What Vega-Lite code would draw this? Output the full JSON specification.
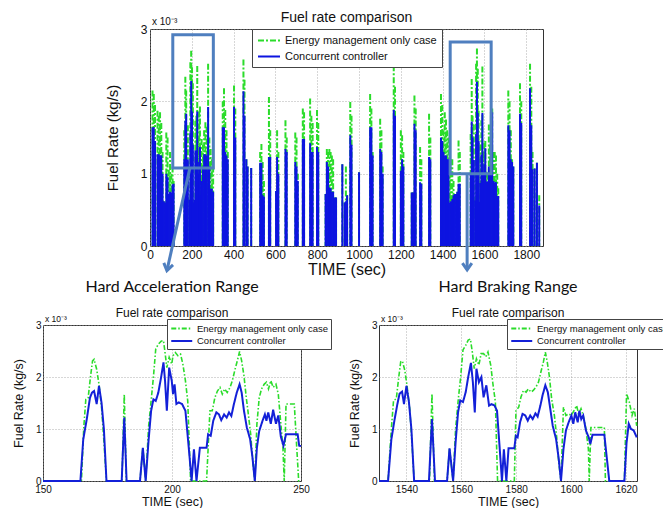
{
"$schema": "https://vega.github.io/schema/vega-lite/v6.json",
"background": "white",
"padding": {"left": 11, "top": 10, "right": 0, "bottom": 0},
"config": {
 "font": "Liberation Sans",
 "view": {"stroke": "#333", "strokeWidth": 1},
 "axis": {"domain": false, "ticks": false, "grid": true, "gridColor": "#999", "gridDash": [1, 2], "gridWidth": 0.8, "labelFont": "Liberation Sans", "titleFont": "Liberation Sans", "labelColor": "#111", "titleColor": "#111", "titleFontWeight": "normal", "labelFlush": false},
 "legend": {"labelFont": "Liberation Sans", "labelColor": "#111"},
 "title": {"font": "Liberation Sans", "fontWeight": "normal", "color": "#111", "frame": "group"}
},
"datasets": {
 "top": [
{"t":12,"c":1.64,"e":2.15},{"t":18,"c":1.64,"e":2.1},{"t":24,"c":1.45,"e":1.95},{"t":36,"c":1.27,"e":1.87},{"t":42,"c":1.27,"e":1.8},{"t":48,"c":1.25,"e":1.85},{"t":54,"c":1.25,"e":1.7},{"t":60,"c":1.0,"e":1.3},{"t":66,"c":0.62,"e":0.62},{"t":72,"c":0.6,"e":0.6},{"t":78,"c":1.0,"e":1.57},{"t":84,"c":0.95,"e":1.5},{"t":90,"c":0.72,"e":1.05},{"t":96,"c":0.75,"e":1.3},{"t":102,"c":0.74,"e":1.0},{"t":108,"c":0.85,"e":1.1},{"t":113,"c":0.86,"e":0.9},
{"t":164,"c":1.2,"e":1.6},{"t":169,"c":1.73,"e":2.34},{"t":173,"c":1.83,"e":2.15},{"t":181,"c":1.2,"e":1.67},{"t":189,"c":0.64,"e":0.64},{"t":193,"c":1.57,"e":2.54},{"t":197,"c":2.28,"e":2.7},{"t":201,"c":1.86,"e":2.47},{"t":205,"c":1.4,"e":2.25},{"t":209,"c":0.6,"e":0.6},{"t":213,"c":0.64,"e":0.64},{"t":217,"c":1.32,"e":1.73},{"t":222,"c":1.32,"e":1.8},{"t":226,"c":1.86,"e":2.49},{"t":230,"c":1.0,"e":1.5},{"t":235,"c":1.16,"e":1.86},{"t":239,"c":1.37,"e":1.93},{"t":243,"c":0.7,"e":1.09},{"t":247,"c":0.9,"e":1.48},{"t":253,"c":1.1,"e":1.4},{"t":259,"c":1.27,"e":1.6},{"t":265,"c":1.27,"e":1.71},{"t":271,"c":1.25,"e":1.65},{"t":278,"c":1.92,"e":2.52},{"t":284,"c":1.1,"e":1.5},{"t":290,"c":0.79,"e":1.34},{"t":296,"c":0.79,"e":1.2},{"t":302,"c":0.75,"e":1.1},
{"t":348,"c":1.64,"e":2.0},{"t":354,"c":1.64,"e":2.18},{"t":360,"c":1.3,"e":1.88},{"t":366,"c":1.25,"e":1.6},{"t":372,"c":1.2,"e":1.3},
{"t":402,"c":1.92,"e":2.22},{"t":408,"c":1.5,"e":1.9},
{"t":447,"c":2.14,"e":2.58},{"t":452,"c":1.8,"e":2.3},{"t":461,"c":1.2,"e":1.2},{"t":467,"c":1.1,"e":1.1},{"t":484,"c":1.08,"e":1.08},
{"t":527,"c":1.15,"e":1.3},{"t":533,"c":1.15,"e":1.41},{"t":539,"c":0.7,"e":1.16},{"t":545,"c":0.68,"e":0.9},
{"t":569,"c":1.23,"e":2.06},{"t":575,"c":1.23,"e":1.6},
{"t":603,"c":0.76,"e":0.76},{"t":608,"c":1.23,"e":1.6},{"t":614,"c":1.0,"e":1.3},
{"t":648,"c":1.34,"e":1.74},{"t":654,"c":1.3,"e":1.5},
{"t":695,"c":1.16,"e":1.57},{"t":701,"c":1.1,"e":1.5},{"t":707,"c":0.9,"e":1.0},
{"t":731,"c":1.48,"e":1.9},{"t":737,"c":1.48,"e":1.85},
{"t":766,"c":1.42,"e":2.04},{"t":772,"c":1.3,"e":1.8},{"t":778,"c":1.3,"e":1.7},
{"t":799,"c":1.37,"e":1.88},{"t":805,"c":1.3,"e":1.7},
{"t":840,"c":0.72,"e":0.72},{"t":846,"c":1.16,"e":1.34},{"t":852,"c":1.1,"e":1.3},{"t":858,"c":0.81,"e":1.34},{"t":864,"c":0.8,"e":1.3},{"t":870,"c":0.75,"e":1.25},{"t":876,"c":0.75,"e":1.2},{"t":884,"c":0.67,"e":0.67},{"t":890,"c":0.67,"e":0.67},
{"t":920,"c":1.13,"e":1.13},{"t":931,"c":0.6,"e":0.6},{"t":937,"c":0.62,"e":1.1},{"t":943,"c":0.7,"e":0.7},
{"t":958,"c":1.53,"e":1.99},{"t":964,"c":1.4,"e":1.8},
{"t":1000,"c":1.02,"e":1.02},
{"t":1053,"c":1.64,"e":2.1},{"t":1059,"c":1.64,"e":1.9},{"t":1065,"c":1.25,"e":1.3},
{"t":1101,"c":1.34,"e":1.76},{"t":1107,"c":1.3,"e":1.6},{"t":1113,"c":1.0,"e":1.1},
{"t":1166,"c":1.88,"e":2.5},{"t":1172,"c":1.8,"e":2.2},
{"t":1200,"c":1.04,"e":1.6},{"t":1206,"c":1.2,"e":1.53},{"t":1212,"c":1.1,"e":1.3},
{"t":1252,"c":0.74,"e":0.74},{"t":1258,"c":0.74,"e":0.74},{"t":1265,"c":1.69,"e":2.08},{"t":1271,"c":1.6,"e":1.9},
{"t":1292,"c":0.88,"e":1.37},{"t":1298,"c":0.86,"e":1.2},
{"t":1335,"c":1.23,"e":1.83},{"t":1341,"c":1.2,"e":1.5},
{"t":1392,"c":1.5,"e":2.1},{"t":1398,"c":1.45,"e":1.95},{"t":1404,"c":1.3,"e":1.6},{"t":1410,"c":1.25,"e":1.85},{"t":1416,"c":1.25,"e":1.75},{"t":1422,"c":1.2,"e":1.6},{"t":1428,"c":1.2,"e":1.5},{"t":1434,"c":0.6,"e":1.57},{"t":1440,"c":0.62,"e":1.2},{"t":1446,"c":0.65,"e":1.2},{"t":1452,"c":0.7,"e":0.9},{"t":1458,"c":0.72,"e":0.72},{"t":1464,"c":0.72,"e":0.72},{"t":1470,"c":0.75,"e":0.75},{"t":1476,"c":0.86,"e":1.46},{"t":1482,"c":0.86,"e":1.3},
{"t":1534,"c":1.0,"e":1.55},{"t":1539,"c":1.72,"e":2.31},{"t":1543,"c":1.5,"e":1.8},{"t":1549,"c":1.19,"e":1.68},{"t":1556,"c":0.63,"e":0.63},{"t":1560,"c":1.55,"e":2.52},{"t":1564,"c":2.27,"e":2.73},{"t":1568,"c":1.84,"e":2.45},{"t":1572,"c":1.45,"e":1.87},{"t":1576,"c":0.61,"e":0.61},{"t":1580,"c":0.87,"e":1.4},{"t":1585,"c":1.26,"e":1.74},{"t":1590,"c":1.84,"e":2.48},{"t":1594,"c":1.0,"e":1.3},{"t":1599,"c":1.13,"e":1.42},{"t":1604,"c":1.35,"e":1.45},{"t":1609,"c":0.89,"e":1.03},{"t":1614,"c":0.89,"e":1.0},{"t":1621,"c":1.1,"e":1.68},{"t":1626,"c":1.0,"e":1.4},{"t":1631,"c":1.85,"e":1.97},{"t":1637,"c":1.85,"e":1.9},{"t":1643,"c":0.9,"e":1.3},{"t":1649,"c":0.88,"e":1.3},{"t":1655,"c":0.88,"e":1.25},{"t":1661,"c":0.69,"e":1.0},{"t":1666,"c":0.69,"e":0.8},
{"t":1714,"c":1.67,"e":2.15},{"t":1720,"c":1.6,"e":2.0},{"t":1726,"c":1.2,"e":1.6},{"t":1732,"c":1.16,"e":1.2},{"t":1738,"c":1.1,"e":1.1},
{"t":1770,"c":1.83,"e":2.25},{"t":1776,"c":1.7,"e":2.0},
{"t":1818,"c":2.18,"e":2.52},{"t":1824,"c":1.67,"e":2.2},{"t":1830,"c":1.06,"e":1.3},{"t":1840,"c":1.07,"e":1.07},{"t":1851,"c":1.15,"e":1.15},{"t":1862,"c":0.56,"e":0.7}
 ],
 "boxes": [{"x1":109,"x2":303,"y1":1.08,"y2":2.92},{"x1":1436,"x2":1632,"y1":1.0,"y2":2.82}],
 "arrows": [{"n":"a","x1":191,"y1":1.08,"x2":81,"y2":-0.34},{"n":"b","x1":1517,"y1":1.0,"x2":1517,"y2":-0.33}],
 "blC": [
{"t":150,"v":0},{"t":164.5,"v":0},{"t":165.6,"v":0.8},{"t":167,"v":1.2},{"t":168.2,"v":1.6},{"t":169,"v":1.7},{"t":169.8,"v":1.73},{"t":170.8,"v":1.48},{"t":171.7,"v":1.83},{"t":172.7,"v":1.5},{"t":173.6,"v":1.0},{"t":174.6,"v":0},{"t":180.5,"v":0},{"t":181.5,"v":1.22},{"t":182.4,"v":0},{"t":187.6,"v":0},{"t":188.7,"v":0.64},{"t":189.8,"v":0},{"t":190.9,"v":0.77},{"t":191.9,"v":1.35},{"t":192.8,"v":1.57},{"t":193.7,"v":1.54},{"t":194.7,"v":1.7},{"t":195.8,"v":2.0},{"t":196.7,"v":2.28},{"t":197.3,"v":1.93},{"t":198,"v":1.35},{"t":198.9,"v":2.18},{"t":199.9,"v":1.93},{"t":200.4,"v":1.67},{"t":201,"v":1.86},{"t":201.7,"v":1.48},{"t":202.6,"v":1.51},{"t":203.9,"v":1.48},{"t":205.2,"v":1.35},{"t":206.5,"v":0.64},{"t":207.6,"v":0},{"t":208.5,"v":0.61},{"t":209.5,"v":0},{"t":210.8,"v":0.64},{"t":213.4,"v":0.64},{"t":214,"v":0.9},{"t":215,"v":0.87},{"t":216,"v":1.16},{"t":217.2,"v":1.32},{"t":218.2,"v":1.28},{"t":219.1,"v":1.17},{"t":220.2,"v":1.28},{"t":221.2,"v":1.22},{"t":222.1,"v":1.32},{"t":223,"v":1.25},{"t":224,"v":1.48},{"t":225.1,"v":1.7},{"t":226.2,"v":1.86},{"t":227,"v":1.7},{"t":227.9,"v":1.35},{"t":229,"v":1.03},{"t":230.3,"v":0.8},{"t":231.2,"v":0.45},{"t":232.1,"v":0},{"t":232.9,"v":0.64},{"t":233.8,"v":0.96},{"t":235.1,"v":1.16},{"t":236,"v":1.28},{"t":236.6,"v":1.16},{"t":237.3,"v":1.32},{"t":238.3,"v":1.1},{"t":239.2,"v":1.37},{"t":240.3,"v":1.1},{"t":241.2,"v":1.26},{"t":242.2,"v":0.85},{"t":243.2,"v":0.68},{"t":244.2,"v":0.9},{"t":248.7,"v":0.9},{"t":249.3,"v":0.68},{"t":250,"v":0.67}
 ],
 "blE": [
{"t":150,"v":0},{"t":164.9,"v":0},{"t":165.8,"v":1.03},{"t":166.6,"v":1.57},{"t":167.5,"v":1.6},{"t":168.4,"v":2.0},{"t":169.2,"v":2.31},{"t":169.8,"v":2.34},{"t":170.8,"v":2.15},{"t":171.7,"v":1.86},{"t":172.7,"v":1.41},{"t":173.6,"v":0.77},{"t":174.6,"v":0},{"t":180.6,"v":0},{"t":181.5,"v":1.67},{"t":182.3,"v":0},{"t":187.6,"v":0},{"t":188.7,"v":0.64},{"t":189.8,"v":0},{"t":190.9,"v":1.03},{"t":191.9,"v":1.54},{"t":192.8,"v":2.0},{"t":193.7,"v":2.54},{"t":194.7,"v":2.63},{"t":195.8,"v":2.69},{"t":196.7,"v":2.7},{"t":197.3,"v":2.47},{"t":198,"v":2.18},{"t":198.9,"v":2.38},{"t":199.9,"v":2.25},{"t":200.4,"v":2.41},{"t":201.3,"v":2.47},{"t":202.3,"v":2.41},{"t":203.3,"v":2.44},{"t":204.2,"v":2.25},{"t":205.2,"v":1.93},{"t":206.1,"v":1.54},{"t":207.2,"v":0},{"t":213.4,"v":0},{"t":214.7,"v":1.35},{"t":215.6,"v":1.35},{"t":216.6,"v":1.6},{"t":217.6,"v":1.73},{"t":218.6,"v":1.8},{"t":219.5,"v":1.67},{"t":220.4,"v":1.77},{"t":221.4,"v":1.7},{"t":222.5,"v":1.8},{"t":223.4,"v":1.93},{"t":224.3,"v":2.12},{"t":225.3,"v":2.31},{"t":226.2,"v":2.49},{"t":227,"v":2.31},{"t":227.9,"v":2.02},{"t":228.8,"v":1.6},{"t":229.6,"v":1.28},{"t":230.5,"v":0.9},{"t":231.4,"v":0.32},{"t":232.1,"v":0},{"t":232.9,"v":1.09},{"t":233.8,"v":1.6},{"t":234.7,"v":1.77},{"t":235.7,"v":1.86},{"t":236.6,"v":1.9},{"t":237.4,"v":1.77},{"t":238.3,"v":1.93},{"t":239.2,"v":1.8},{"t":240.3,"v":1.86},{"t":241.2,"v":1.67},{"t":242.2,"v":1.09},{"t":243,"v":0.64},{"t":243.5,"v":0},{"t":244.2,"v":1.48},{"t":247.4,"v":1.48},{"t":248.4,"v":0.6},{"t":249.1,"v":0},{"t":250,"v":0}
 ],
 "brC": [
{"t":1530,"v":0},{"t":1533.3,"v":0},{"t":1534.5,"v":0.8},{"t":1535.7,"v":1.19},{"t":1536.7,"v":1.48},{"t":1537.5,"v":1.68},{"t":1538.4,"v":1.72},{"t":1539.1,"v":1.48},{"t":1540,"v":1.83},{"t":1540.9,"v":1.52},{"t":1541.8,"v":1.0},{"t":1542.8,"v":0},{"t":1548.2,"v":0},{"t":1549.3,"v":1.19},{"t":1550.4,"v":0},{"t":1554.8,"v":0},{"t":1555.7,"v":0.63},{"t":1557,"v":0},{"t":1557.9,"v":0.74},{"t":1558.8,"v":1.32},{"t":1559.6,"v":1.55},{"t":1560.6,"v":1.52},{"t":1561.6,"v":1.71},{"t":1562.5,"v":2.0},{"t":1563.5,"v":2.27},{"t":1564.2,"v":1.9},{"t":1564.9,"v":1.32},{"t":1565.5,"v":2.16},{"t":1566.4,"v":1.9},{"t":1567.3,"v":2.0},{"t":1568.1,"v":1.61},{"t":1569.1,"v":1.84},{"t":1570.1,"v":1.45},{"t":1571,"v":1.48},{"t":1572.1,"v":1.45},{"t":1573,"v":1.35},{"t":1574,"v":0.61},{"t":1574.8,"v":0},{"t":1575.5,"v":0.61},{"t":1576.4,"v":0},{"t":1577.2,"v":0.63},{"t":1579.3,"v":0.63},{"t":1579.9,"v":0.87},{"t":1580.5,"v":0.84},{"t":1581.4,"v":1.13},{"t":1582.3,"v":1.29},{"t":1583.3,"v":1.26},{"t":1584.2,"v":1.16},{"t":1585.1,"v":1.26},{"t":1586,"v":1.19},{"t":1587,"v":1.3},{"t":1587.8,"v":1.24},{"t":1588.8,"v":1.45},{"t":1589.6,"v":1.65},{"t":1590.6,"v":1.84},{"t":1591.5,"v":1.71},{"t":1592.4,"v":1.39},{"t":1593.3,"v":1.06},{"t":1594.5,"v":0.81},{"t":1595.5,"v":0.42},{"t":1596.3,"v":0},{"t":1597.2,"v":0.61},{"t":1598.1,"v":0.97},{"t":1599.1,"v":1.13},{"t":1600.1,"v":1.26},{"t":1600.8,"v":1.1},{"t":1601.5,"v":1.32},{"t":1602.4,"v":1.13},{"t":1603,"v":1.35},{"t":1603.7,"v":1.19},{"t":1604.4,"v":1.26},{"t":1605.4,"v":0.97},{"t":1606.4,"v":0.84},{"t":1607,"v":0.71},{"t":1607.8,"v":0.89},{"t":1612.1,"v":0.89},{"t":1613.9,"v":0},{"t":1619.4,"v":0},{"t":1620.2,"v":0.74},{"t":1621,"v":1.1},{"t":1621.8,"v":1.0},{"t":1622.8,"v":0.97},{"t":1623.9,"v":0.84}
 ],
 "brE": [
{"t":1530,"v":0},{"t":1533.3,"v":0},{"t":1534.5,"v":1.0},{"t":1535.3,"v":1.55},{"t":1536.3,"v":1.58},{"t":1537.2,"v":2.0},{"t":1537.9,"v":2.29},{"t":1538.5,"v":2.31},{"t":1539.4,"v":2.13},{"t":1540.2,"v":1.84},{"t":1541.2,"v":1.39},{"t":1542,"v":0.74},{"t":1542.8,"v":0},{"t":1548.4,"v":0},{"t":1549.3,"v":1.68},{"t":1550.2,"v":0},{"t":1554.8,"v":0},{"t":1555.7,"v":0.63},{"t":1557,"v":0},{"t":1557.9,"v":1.0},{"t":1558.9,"v":1.58},{"t":1559.7,"v":1.97},{"t":1560.6,"v":2.52},{"t":1561.6,"v":2.61},{"t":1562.5,"v":2.71},{"t":1563.3,"v":2.73},{"t":1564,"v":2.48},{"t":1564.7,"v":2.16},{"t":1565.5,"v":2.35},{"t":1566.4,"v":2.23},{"t":1567.2,"v":2.45},{"t":1568.1,"v":2.45},{"t":1568.9,"v":2.39},{"t":1569.7,"v":2.48},{"t":1570.7,"v":2.23},{"t":1571.5,"v":1.87},{"t":1572.4,"v":1.52},{"t":1573.2,"v":0},{"t":1579.3,"v":0},{"t":1579.9,"v":1.35},{"t":1580.9,"v":1.42},{"t":1581.7,"v":1.61},{"t":1582.6,"v":1.74},{"t":1583.6,"v":1.71},{"t":1584.4,"v":1.77},{"t":1585.4,"v":1.71},{"t":1586.2,"v":1.74},{"t":1587.2,"v":1.81},{"t":1588.1,"v":1.9},{"t":1589,"v":2.1},{"t":1589.9,"v":2.29},{"t":1590.6,"v":2.48},{"t":1591.3,"v":2.29},{"t":1592.1,"v":2.0},{"t":1592.9,"v":1.58},{"t":1593.9,"v":1.26},{"t":1594.7,"v":0.87},{"t":1595.5,"v":0.35},{"t":1596.3,"v":0},{"t":1597.2,"v":1.42},{"t":1598.1,"v":1.26},{"t":1599.1,"v":1.29},{"t":1600.1,"v":1.26},{"t":1601,"v":1.35},{"t":1602,"v":1.45},{"t":1602.7,"v":1.29},{"t":1603.6,"v":1.39},{"t":1604.4,"v":1.26},{"t":1605.4,"v":1.0},{"t":1606.3,"v":0.61},{"t":1606.6,"v":0},{"t":1607.2,"v":1.03},{"t":1612.1,"v":1.03},{"t":1612.5,"v":0},{"t":1619.4,"v":0},{"t":1620.2,"v":1.68},{"t":1621.2,"v":1.52},{"t":1622.2,"v":1.26},{"t":1623,"v":1.39},{"t":1623.9,"v":1.06}
 ]
},
"vconcat": [
 {
  "hconcat": [
   {"width": 51, "height": 5, "data": {"values": []}, "mark": {"type": "point"}, "view": {"stroke": null}},
   {
    "width": 393, "height": 217,
    "title": {"text": "Fuel rate comparison", "fontSize": 14, "offset": -8, "frame": "group"},
    "layer": [
     {"data": {"name": "top"}, "mark": {"type": "rule", "strokeWidth": 2},
      "encoding": {
       "x": {"field": "t", "type": "quantitative", "scale": {"domain": [0, 1880], "nice": false, "zero": false}, "axis": {"values": [0,200,400,600,800,1000,1200,1400,1600,1800], "format": "d", "title": "TIME (sec)", "titleFontSize": 16, "labelFontSize": 12, "labelPadding": 3, "titlePadding": 1}},
       "y": {"field": "e", "type": "quantitative", "scale": {"domain": [0, 3], "nice": false}, "axis": {"values": [0,0.5,1,1.5,2,2.5,3], "format": "~g", "title": "Fuel Rate (kg/s)", "titleFontSize": 15, "labelFontSize": 12, "labelPadding": 3, "titlePadding": 20}},
       "y2": {"datum": 0},
       "color": {"datum": "Energy management only case", "type": "nominal", "scale": {"domain": ["Energy management only case", "Concurrent controller"], "range": ["#2bdc2b", "#0d14e0"]}, "legend": {"orient": "none", "legendX": 102, "legendY": 0, "title": null, "labelFontSize": 11, "symbolType": "M-1,0H3", "symbolSize": 121, "symbolStrokeWidth": 2, "labelOffset": 15, "rowPadding": 4, "padding": 5, "strokeColor": "#444", "fillColor": "#ffffff"}},
       "strokeDash": {"datum": "Energy management only case", "type": "nominal", "scale": {"domain": ["Energy management only case", "Concurrent controller"], "range": [[6, 2, 2, 2], [1, 0]]}, "legend": {"orient": "none", "legendX": 102, "legendY": 0, "title": null, "labelFontSize": 11, "symbolType": "M-1,0H3", "symbolSize": 121, "symbolStrokeWidth": 2, "labelOffset": 15, "rowPadding": 4, "padding": 5, "strokeColor": "#444", "fillColor": "#ffffff"}}
      }},
     {"data": {"name": "top"}, "mark": {"type": "rule", "strokeWidth": 2},
      "encoding": {
       "x": {"field": "t", "type": "quantitative"},
       "y": {"field": "c", "type": "quantitative"},
       "y2": {"datum": 0},
       "color": {"datum": "Concurrent controller", "type": "nominal"},
       "strokeDash": {"datum": "Concurrent controller", "type": "nominal"}
      }},
     {"data": {"name": "boxes"}, "mark": {"type": "rect", "filled": false, "stroke": "#4f7fbf", "strokeWidth": 3},
      "encoding": {"x": {"field": "x1", "type": "quantitative"}, "x2": {"field": "x2"}, "y": {"field": "y1", "type": "quantitative"}, "y2": {"field": "y2"}}},
     {"data": {"name": "arrows"}, "mark": {"type": "rule", "stroke": "#4f7fbf", "strokeWidth": 3, "clip": false},
      "encoding": {"x": {"field": "x1", "type": "quantitative"}, "x2": {"field": "x2"}, "y": {"field": "y1", "type": "quantitative"}, "y2": {"field": "y2"}}},
     {"data": {"name": "arrows"}, "transform": [{"filter": {"field": "n", "equal": "a"}}], "mark": {"type": "point", "shape": "M-0.9,-1.3L0,0L0.9,-1.3", "filled": false, "stroke": "#4f7fbf", "strokeWidth": 3, "size": 110, "opacity": 1, "angle": 12.5, "clip": false},
      "encoding": {"x": {"field": "x2", "type": "quantitative"}, "y": {"field": "y2", "type": "quantitative"}}},
     {"data": {"name": "arrows"}, "transform": [{"filter": {"field": "n", "equal": "b"}}], "mark": {"type": "point", "shape": "M-0.9,-1.3L0,0L0.9,-1.3", "filled": false, "stroke": "#4f7fbf", "strokeWidth": 3, "size": 110, "opacity": 1, "clip": false},
      "encoding": {"x": {"field": "x2", "type": "quantitative"}, "y": {"field": "y2", "type": "quantitative"}}},
     {"data": {"values": [{}]}, "mark": {"type": "text", "text": "x 10⁻³", "fontSize": 10, "align": "left", "baseline": "alphabetic", "dx": 2, "dy": -4, "color": "#111"},
      "encoding": {"x": {"datum": 0}, "y": {"datum": 3}}}
    ]
   }
  ],
  "spacing": 10,
  "resolve": {"scale": {"color": "independent", "strokeDash": "independent"}, "legend": {"color": "independent", "strokeDash": "independent"}}
 },
 {
  "hconcat": [
   {
    "width": 258, "height": 156,
    "title": {"text": "Hard Acceleration Range", "subtitle": "Fuel rate comparison", "font": "Lato", "fontSize": 16, "subtitleFont": "Liberation Sans", "subtitleFontSize": 12, "subtitleColor": "#111", "subtitlePadding": 13, "offset": -4, "anchor": "middle", "frame": "group"},
    "layer": [
     {"data": {"name": "blE"}, "mark": {"type": "line", "strokeWidth": 1.6},
      "encoding": {
       "x": {"field": "t", "type": "quantitative", "scale": {"domain": [150, 250], "nice": false, "zero": false}, "axis": {"values": [150, 200, 250], "format": "d", "title": "TIME (sec)", "titleFontSize": 12.5, "labelFontSize": 10, "labelPadding": 3, "titlePadding": 1}},
       "y": {"field": "v", "type": "quantitative", "scale": {"domain": [0, 3], "nice": false}, "axis": {"values": [0,0.5,1,1.5,2,2.5,3], "format": "~g", "title": "Fuel Rate (kg/s)", "titleFontSize": 12.5, "labelFontSize": 10, "labelPadding": 2, "titlePadding": 10}},
       "color": {"datum": "Energy management only case", "type": "nominal", "scale": {"domain": ["Energy management only case", "Concurrent controller"], "range": ["#2bdc2b", "#1320d8"]}, "legend": {"orient": "none", "legendX": 124, "legendY": -6, "title": null, "labelFontSize": 9.5, "symbolType": "M-1,0H3", "symbolSize": 110, "symbolStrokeWidth": 2, "labelOffset": 14, "rowPadding": 1.5, "padding": 3, "strokeColor": "#444", "fillColor": "#ffffff"}},
       "strokeDash": {"datum": "Energy management only case", "type": "nominal", "scale": {"domain": ["Energy management only case", "Concurrent controller"], "range": [[5, 2, 1.5, 2], [1, 0]]}, "legend": {"orient": "none", "legendX": 124, "legendY": -6, "title": null, "labelFontSize": 9.5, "symbolType": "M-1,0H3", "symbolSize": 110, "symbolStrokeWidth": 2, "labelOffset": 14, "rowPadding": 1.5, "padding": 3, "strokeColor": "#444", "fillColor": "#ffffff"}}
      }},
     {"data": {"name": "blC"}, "mark": {"type": "line", "strokeWidth": 2},
      "encoding": {
       "x": {"field": "t", "type": "quantitative"},
       "y": {"field": "v", "type": "quantitative"},
       "color": {"datum": "Concurrent controller", "type": "nominal"},
       "strokeDash": {"datum": "Concurrent controller", "type": "nominal"}
      }},
     {"data": {"values": [{}]}, "mark": {"type": "text", "text": "x 10⁻³", "fontSize": 8.5, "align": "left", "baseline": "alphabetic", "dx": 2, "dy": -3, "color": "#111"},
      "encoding": {"x": {"datum": 150}, "y": {"datum": 3}}}
    ]
   },
   {
    "width": 258, "height": 156,
    "title": {"text": "Hard Braking Range", "subtitle": "Fuel rate comparison", "font": "Lato", "fontSize": 16, "subtitleFont": "Liberation Sans", "subtitleFontSize": 12, "subtitleColor": "#111", "subtitlePadding": 13, "offset": -4, "anchor": "middle", "frame": "group"},
    "layer": [
     {"data": {"name": "brE"}, "mark": {"type": "line", "strokeWidth": 1.6},
      "encoding": {
       "x": {"field": "t", "type": "quantitative", "scale": {"domain": [1530, 1624], "nice": false, "zero": false}, "axis": {"values": [1540, 1560, 1580, 1600, 1620], "format": "d", "title": "TIME (sec)", "titleFontSize": 12.5, "labelFontSize": 10, "labelPadding": 3, "titlePadding": 1}},
       "y": {"field": "v", "type": "quantitative", "scale": {"domain": [0, 3], "nice": false}, "axis": {"values": [0,0.5,1,1.5,2,2.5,3], "format": "~g", "title": "Fuel Rate (kg/s)", "titleFontSize": 12.5, "labelFontSize": 10, "labelPadding": 2, "titlePadding": 10}},
       "color": {"datum": "Energy management only case", "type": "nominal", "scale": {"domain": ["Energy management only case", "Concurrent controller"], "range": ["#2bdc2b", "#1320d8"]}, "legend": {"orient": "none", "legendX": 128, "legendY": -6, "title": null, "labelFontSize": 9.5, "symbolType": "M-1,0H3", "symbolSize": 110, "symbolStrokeWidth": 2, "labelOffset": 14, "rowPadding": 1.5, "padding": 3, "strokeColor": "#444", "fillColor": "#ffffff"}},
       "strokeDash": {"datum": "Energy management only case", "type": "nominal", "scale": {"domain": ["Energy management only case", "Concurrent controller"], "range": [[5, 2, 1.5, 2], [1, 0]]}, "legend": {"orient": "none", "legendX": 128, "legendY": -6, "title": null, "labelFontSize": 9.5, "symbolType": "M-1,0H3", "symbolSize": 110, "symbolStrokeWidth": 2, "labelOffset": 14, "rowPadding": 1.5, "padding": 3, "strokeColor": "#444", "fillColor": "#ffffff"}}
      }},
     {"data": {"name": "brC"}, "mark": {"type": "line", "strokeWidth": 2},
      "encoding": {
       "x": {"field": "t", "type": "quantitative"},
       "y": {"field": "v", "type": "quantitative"},
       "color": {"datum": "Concurrent controller", "type": "nominal"},
       "strokeDash": {"datum": "Concurrent controller", "type": "nominal"}
      }},
     {"data": {"values": [{}]}, "mark": {"type": "text", "text": "x 10⁻³", "fontSize": 8.5, "align": "left", "baseline": "alphabetic", "dx": 2, "dy": -3, "color": "#111"},
      "encoding": {"x": {"datum": 1530}, "y": {"datum": 3}}}
    ]
   }
  ],
  "spacing": 15,
  "resolve": {"scale": {"color": "independent", "strokeDash": "independent"}, "legend": {"color": "independent", "strokeDash": "independent"}}
 }
],
"spacing": 0,
"resolve": {"scale": {"color": "independent", "strokeDash": "independent"}, "legend": {"color": "independent", "strokeDash": "independent"}}
}
